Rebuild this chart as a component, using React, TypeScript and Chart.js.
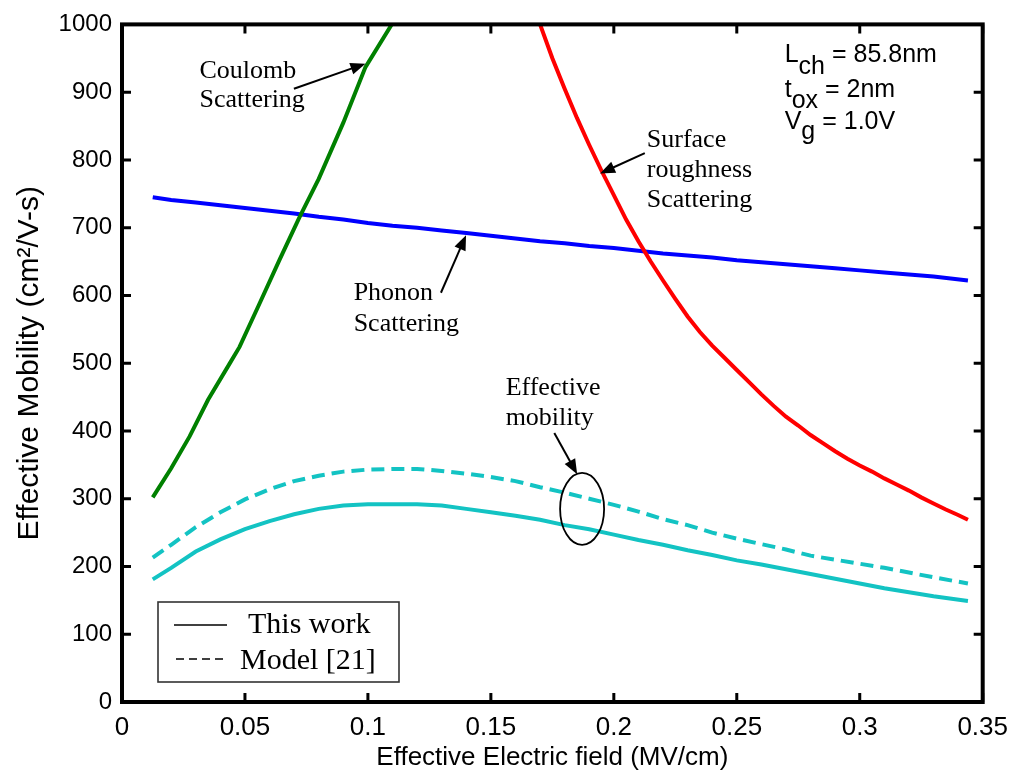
import React, { useEffect, useRef } from "react";
import { Chart, registerables } from "chart.js";

Chart.register(...registerables);

// ---- Data ----
const coulombX = [0.0125, 0.02, 0.0275, 0.035, 0.0437, 0.0478, 0.0558, 0.064, 0.072, 0.08, 0.09, 0.099, 0.1097, 0.113];
const coulombY = [302, 345, 392, 446, 499, 524, 587, 652, 714, 772, 855, 937, 1000, 1030];

const roughX = [0.168, 0.17, 0.175, 0.18, 0.185, 0.19, 0.195, 0.2, 0.205, 0.21, 0.215, 0.22, 0.225, 0.23, 0.235, 0.24, 0.245, 0.25, 0.255, 0.26, 0.265, 0.27, 0.275, 0.28, 0.285, 0.29, 0.295, 0.3, 0.305, 0.31, 0.315, 0.32, 0.325, 0.33, 0.335, 0.34, 0.344];
const roughY = [1020, 1000, 950, 905, 862, 822, 784, 748, 712, 680, 650, 622, 595, 569, 546, 526, 508, 490, 472, 454, 437, 421, 408, 394, 382, 370, 359, 349, 340, 330, 321, 312, 302, 293, 284, 276, 269];

const phononX = [0.0125, 0.02, 0.03, 0.04, 0.05, 0.06, 0.07, 0.08, 0.09, 0.1, 0.11, 0.12, 0.13, 0.14, 0.15, 0.16, 0.17, 0.18, 0.19, 0.2, 0.21, 0.22, 0.23, 0.24, 0.25, 0.26, 0.27, 0.28, 0.29, 0.3, 0.31, 0.32, 0.33, 0.344];
const phononY = [745, 741, 737, 733, 729, 725, 721, 716, 712, 707, 703, 700, 696, 692, 688, 684, 680, 677, 673, 670, 666, 662, 659, 656, 652, 649, 646, 643, 640, 637, 634, 631, 628, 622];

const effX = [0.0125, 0.02, 0.03, 0.04, 0.05, 0.06, 0.07, 0.08, 0.09, 0.1, 0.11, 0.12, 0.13, 0.14, 0.15, 0.16, 0.17, 0.18, 0.19, 0.2, 0.21, 0.22, 0.23, 0.24, 0.25, 0.26, 0.27, 0.28, 0.29, 0.3, 0.31, 0.32, 0.33, 0.344];
const thisWorkY = [181, 198, 222, 240, 255, 267, 277, 285, 290, 292, 292, 292, 290, 285, 280, 275, 269, 261, 255, 247, 239, 232, 224, 217, 209, 203, 196, 189, 182, 175, 168, 162, 156, 149];
const modelY = [213, 232, 258, 280, 299, 314, 326, 334, 340, 343, 344, 344, 341, 337, 332, 326, 317, 309, 300, 291, 281, 270, 261, 250, 241, 233, 225, 216, 210, 204, 198, 191, 184, 175];

const xTickLabels = ["0", "0.05", "0.1", "0.15", "0.2", "0.25", "0.3", "0.35"];
const yTickLabels = ["0", "100", "200", "300", "400", "500", "600", "700", "800", "900", "1000"];

const legendLabels = ["This work", "Model [21]"];

const SANS = '"Liberation Sans", Arial, Helvetica, sans-serif';
const SERIF = '"Liberation Serif", "Times New Roman", Times, serif';
const CYAN = "#13C3C3";

const pts = (xs: number[], ys: number[]) => xs.map((x, i) => ({ x, y: ys[i] }));

function arrow(ctx: CanvasRenderingContext2D, x1: number, y1: number, x2: number, y2: number) {
  const ang = Math.atan2(y2 - y1, x2 - x1);
  const hl = 15, hw = 6;
  ctx.save();
  ctx.strokeStyle = "#000";
  ctx.fillStyle = "#000";
  ctx.lineWidth = 2;
  ctx.beginPath();
  ctx.moveTo(x1, y1);
  ctx.lineTo(x2 - Math.cos(ang) * hl * 0.8, y2 - Math.sin(ang) * hl * 0.8);
  ctx.stroke();
  ctx.beginPath();
  ctx.moveTo(x2, y2);
  ctx.lineTo(x2 - Math.cos(ang) * hl - Math.sin(ang) * hw, y2 - Math.sin(ang) * hl + Math.cos(ang) * hw);
  ctx.lineTo(x2 - Math.cos(ang) * hl + Math.sin(ang) * hw, y2 - Math.sin(ang) * hl - Math.cos(ang) * hw);
  ctx.closePath();
  ctx.fill();
  ctx.restore();
}

function subText(ctx: CanvasRenderingContext2D, x: number, y: number, main: string, sub: string, rest: string, subDy: number) {
  ctx.font = `25px ${SANS}`;
  ctx.fillText(main, x, y);
  let cx = x + ctx.measureText(main).width;
  ctx.fillText(sub, cx, y + subDy);
  cx += ctx.measureText(sub).width;
  ctx.fillText(rest, cx, y);
}

const overlay = {
  id: "overlay",
  afterDatasetsDraw(chart: any) {
    const { ctx, chartArea: a, scales } = chart;
    const sx = scales.x, sy = scales.y;
    const px = (v: number) => sx.getPixelForValue(v);
    const py = (v: number) => sy.getPixelForValue(v);
    ctx.save();
    // frame
    ctx.strokeStyle = "#000";
    ctx.lineWidth = 4;
    ctx.strokeRect(a.left, a.top, a.right - a.left, a.bottom - a.top);
    // inward ticks on all sides
    ctx.lineWidth = 3;
    const tl = 9;
    sx.ticks.forEach((t: any) => {
      const x = px(t.value);
      ctx.beginPath();
      ctx.moveTo(x, a.bottom); ctx.lineTo(x, a.bottom - tl);
      ctx.moveTo(x, a.top); ctx.lineTo(x, a.top + tl);
      ctx.stroke();
    });
    sy.ticks.forEach((t: any) => {
      const y = py(t.value);
      ctx.beginPath();
      ctx.moveTo(a.left, y); ctx.lineTo(a.left + tl, y);
      ctx.moveTo(a.right, y); ctx.lineTo(a.right - tl, y);
      ctx.stroke();
    });

    // annotations (serif)
    ctx.fillStyle = "#000";
    ctx.textAlign = "left";
    ctx.textBaseline = "alphabetic";
    ctx.font = `26px ${SERIF}`;
    // Coulomb
    let x0 = px(0.0315), y0 = py(921);
    ctx.fillText("Coulomb", x0, y0);
    ctx.fillText("Scattering", x0, y0 + 29);
    arrow(ctx, px(0.0699), py(905), px(0.099), py(942));
    // Surface roughness
    x0 = px(0.2134); y0 = py(819);
    ctx.fillText("Surface", x0, y0);
    ctx.fillText("roughness", x0, y0 + 30);
    ctx.fillText("Scattering", x0, y0 + 60);
    arrow(ctx, px(0.2126), py(810), px(0.1944), py(780));
    // Phonon
    x0 = px(0.0942); y0 = py(594);
    ctx.fillText("Phonon", x0, y0);
    ctx.fillText("Scattering", x0, y0 + 31);
    arrow(ctx, px(0.1297), py(604), px(0.1399), py(689));
    // Effective mobility
    x0 = px(0.156); y0 = py(453);
    ctx.fillText("Effective", x0, y0);
    ctx.fillText("mobility", x0, y0 + 30);
    arrow(ctx, px(0.1758), py(397), px(0.1851), py(336));
    ctx.lineWidth = 1.8;
    ctx.beginPath();
    ctx.ellipse(px(0.1871), py(285), 22, 36, 0, 0, Math.PI * 2);
    ctx.stroke();

    // parameters (sans)
    const tx = a.right - 198;
    subText(ctx, tx, a.top + 38, "L", "ch", " = 85.8nm", 12);
    subText(ctx, tx, a.top + 73, "t", "ox", " = 2nm", 11);
    subText(ctx, tx, a.top + 105, "V", "g", " = 1.0V", 10);

    // legend
    const lx = a.left + 36, ly = a.bottom - 100;
    ctx.strokeStyle = "#333";
    ctx.lineWidth = 1.6;
    ctx.strokeRect(lx, ly, 241, 80);
    ctx.strokeStyle = "#000";
    ctx.lineWidth = 1.6;
    ctx.beginPath();
    ctx.moveTo(lx + 16, ly + 23); ctx.lineTo(lx + 69, ly + 23);
    ctx.stroke();
    ctx.setLineDash([8, 5]);
    ctx.beginPath();
    ctx.moveTo(lx + 18, ly + 57); ctx.lineTo(lx + 70, ly + 57);
    ctx.stroke();
    ctx.setLineDash([]);
    ctx.font = `30px ${SERIF}`;
    ctx.fillText(legendLabels[0], lx + 90, ly + 31);
    ctx.fillText(legendLabels[1], lx + 82, ly + 67);
    ctx.restore();
  },
};

export default function App() {
  const ref = useRef<HTMLCanvasElement>(null);
  useEffect(() => {
    if (!ref.current) return;
    const line = (data: any, color: string, dash: number[] = []) => ({
      data,
      borderColor: color,
      backgroundColor: color,
      borderWidth: 4,
      borderDash: dash,
      pointRadius: 0,
      tension: 0,
      fill: false,
      clip: 0,
    });
    const chart = new Chart(ref.current, {
      type: "line",
      data: {
        datasets: [
          line(pts(coulombX, coulombY), "#008000"),
          line(pts(roughX, roughY), "#FF0000"),
          line(pts(phononX, phononY), "#0000FF"),
          line(pts(effX, thisWorkY), CYAN),
          line(pts(effX, modelY), CYAN, [13, 7]),
        ] as any,
      },
      options: {
        responsive: false,
        animation: false,
        layout: { padding: { top: 17, right: 30, left: 0, bottom: 0 } },
        plugins: { legend: { display: false }, tooltip: { enabled: false } },
        scales: {
          x: {
            type: "linear",
            min: 0,
            max: 0.35,
            grid: { display: false, drawTicks: false },
            border: { display: false },
            ticks: {
              stepSize: 0.05,
              padding: 10,
              color: "#000",
              font: { family: SANS, size: 26 },
              maxRotation: 0,
              callback: (_v: any, i: number) => xTickLabels[i],
            },
            title: {
              display: true,
              text: "Effective Electric field (MV/cm)",
              color: "#000",
              font: { family: SANS, size: 26 },
              padding: { top: 0, bottom: 0 },
            },
            afterFit: (s: any) => { s.height = 71; },
          },
          y: {
            type: "linear",
            min: 0,
            max: 1000,
            grid: { display: false, drawTicks: false },
            border: { display: false },
            ticks: {
              stepSize: 100,
              padding: 10,
              color: "#000",
              font: { family: SANS, size: 24 },
              callback: (_v: any, i: number) => yTickLabels[i],
            },
            title: {
              display: true,
              text: "Effective Mobility (cm²/V-s)",
              color: "#000",
              font: { family: SANS, size: 30 },
              padding: { top: 12, bottom: 0 },
            },
            afterFit: (s: any) => { s.width = 122; },
          },
        },
      },
      plugins: [overlay],
    });
    return () => chart.destroy();
  }, []);
  return (
    <div style={{ position: "absolute", left: 0, top: 0, width: 1018, height: 773, background: "#fff" }}>
      <canvas ref={ref} width={1018} height={773} style={{ width: 1018, height: 773 }} />
    </div>
  );
}
